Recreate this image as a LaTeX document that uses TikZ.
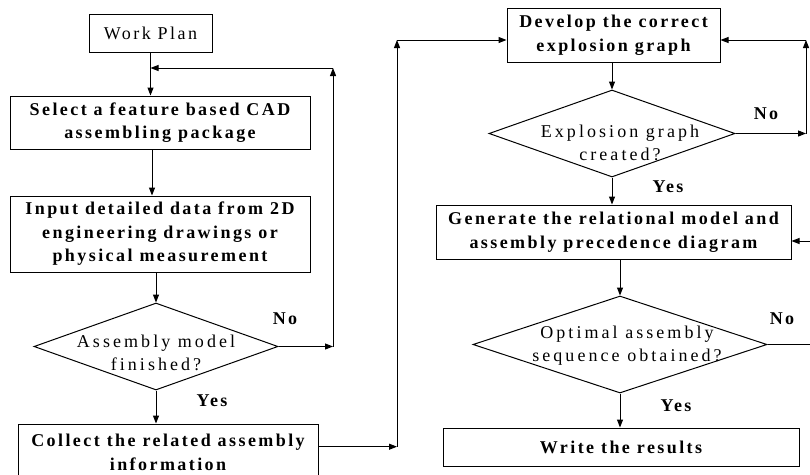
\documentclass[tikz,border=0pt]{standalone}
\usepackage{fontspec}
\setmainfont{Liberation Serif}[LetterSpace=13.5]
\newfontfamily\diafont[LetterSpace=17]{Liberation Serif}
\usetikzlibrary{arrows.meta,shapes.geometric}
\begin{document}
\begin{tikzpicture}[x=1pt,y=-1pt,
  line width=1pt,
  box/.style={draw, inner sep=0pt, align=center, font=\bfseries\fontsize{18}{23.5}\selectfont},
  plainbox/.style={draw, inner sep=0pt, align=center, font=\fontsize{18}{23}\selectfont},
  dia/.style={draw, diamond, inner sep=0pt},
  dtext/.style={align=center, inner sep=0pt, font=\diafont\fontsize{18}{23}\selectfont},
  lbl/.style={inner sep=0pt, font=\bfseries\fontsize{18}{20}\selectfont},
  arr/.style={-{Triangle[length=8pt,width=6pt]}},
  plainline/.style={-}]
\useasboundingbox (0,0) rectangle (810,474);
% left column
\node[plainbox, minimum width=123pt, minimum height=38pt] (work) at (150.5,33) {Work Plan};
\node[box, minimum width=300pt, minimum height=53pt] (select) at (160,122.5) {Select a feature based CAD\\assembling package};
\node[box, minimum width=300pt, minimum height=76pt] (input) at (160,234) {Input detailed data from 2D\\engineering drawings or\\physical measurement};
\node[dia, minimum width=244pt, minimum height=87pt] (d1) at (156,346.5) {};
\node[dtext] (d1t) at (156,353) {Assembly model\\finished?};
\node[box, minimum width=300pt, minimum height=57pt] (collect) at (168,452.5) {Collect the related assembly\\information};
% right column
\node[box, minimum width=213pt, minimum height=54pt] (develop) at (613.5,35) {Develop the correct\\explosion graph};
\node[dia, minimum width=246pt, minimum height=87pt] (d2) at (612,133.5) {};
\node[dtext] (d2t) at (620,142.5) {Explosion graph\\created?};
\node[box, minimum width=355pt, minimum height=54pt] (gen) at (613.5,232) {Generate the relational model and\\assembly precedence diagram};
\node[dia, minimum width=294pt, minimum height=97pt] (d3) at (620,344.5) {};
\node[dtext] (d3t) at (627,346) {Optimal assembly\\sequence obtained?};
\node[box, minimum width=356pt, minimum height=38pt] (write) at (621,447) {Write the results};
% labels
\node[lbl] (no1) at (285,319) {No};
\node[lbl] (yes1) at (212,401) {Yes};
\node[lbl] (no2) at (766,114) {No};
\node[lbl] (yes2) at (668,187) {Yes};
\node[lbl] (no3) at (782,319) {No};
\node[lbl] (yes3) at (676,406) {Yes};
% coordinates
\coordinate (j1) at (333,68);
\coordinate (j2) at (333,346.5);
\coordinate (k1) at (397,446.7);
\coordinate (k2) at (397,40);
\coordinate (m1) at (806,133.5);
\coordinate (m2) at (806,40);
\coordinate (e1) at (812,241);
\coordinate (e2) at (812,344.5);
% left connectors
\draw[arr] (work.south) -- (work.south |- select.north);
\draw[arr] (select.south -| 152,0) -- (input.north -| 152,0);
\draw[arr] (d1.north |- input.south) -- (d1.north);
\draw[arr] (d1.south) -- (d1.south |- collect.north);
\draw[arr] (d1.east) -- (j2);
\draw[arr] (j2) -- (j1);
\draw[arr] (j1) -- (j1 -| work.south);
\draw[arr] (k1 -| collect.east) -- (k1);
\draw[arr] (k1) -- (k2);
\draw[arr] (k2) -- (k2 -| develop.west);
% right connectors
\draw[arr] (d2.north |- develop.south) -- (d2.north);
\draw[arr] (d2.south) -- (d2.south |- gen.north);
\draw[arr] (d2.east) -- (m1);
\draw[arr] (m1) -- (m2);
\draw[arr] (m2) -- (m2 -| develop.east);
\draw[arr] (e1) -- (e1 -| gen.east);
\draw[arr] (d3.north |- gen.south) -- (d3.north);
\draw[plainline] (d3.east) -- (e2);
\draw[arr] (d3.south) -- (d3.south |- write.north);
\end{tikzpicture}
\end{document}
